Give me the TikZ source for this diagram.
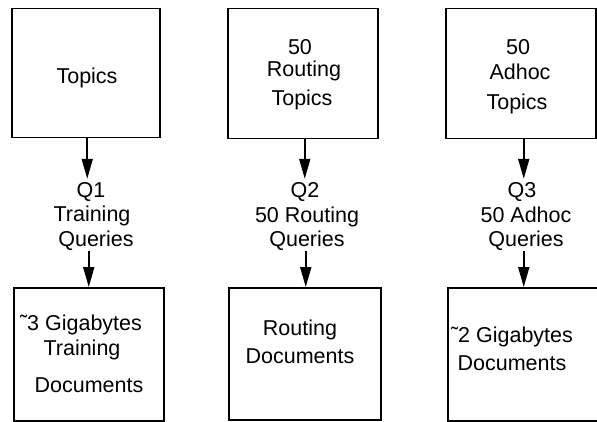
\documentclass[tikz,border=0pt]{standalone}
\usepackage{fontspec}
\setmainfont{Liberation Sans}
\usetikzlibrary{arrows.meta}
\begin{document}
\begin{tikzpicture}[x=1pt,y=-1pt,
  box/.style={draw,line width=1.5pt,inner sep=0pt,anchor=north west},
  txt/.style={anchor=base,inner sep=0pt,font=\fontsize{21.5}{25}\selectfont},
  arr/.style={line width=1.8pt,-{Triangle[length=20pt,width=11pt]}}]
\useasboundingbox (0,0) rectangle (597,422);

% boxes: topics (top row) and document collections (bottom row)
\node[box,minimum width=148pt,minimum height=129pt] (t1) at (11,8) {};
\node[box,minimum width=150pt,minimum height=130pt] (t2) at (227,8) {};
\node[box,minimum width=150pt,minimum height=130pt] (t3) at (445,8) {};
\node[box,minimum width=150pt,minimum height=133pt] (d1) at (13,287) {};
\node[box,minimum width=152pt,minimum height=132pt] (d2) at (228,287) {};
\node[box,minimum width=150pt,minimum height=133pt] (d3) at (447,287) {};

% column 1
\node[txt] (t1a) at (87,84) {Topics};
\node[txt] (q1a) at (91,198) {Q1};
\node[txt] (q1b) at (92,222) {Training};
\node[txt] (q1c) at (96,247) {Queries};
\node[txt] (d1a) at (81,330) {˜3 Gigabytes};
\node[txt] (d1b) at (82,355) {Training};
\node[txt] (d1c) at (89,392) {Documents};

% column 2
\node[txt] (t2a) at (300,55) {50};
\node[txt] (t2b) at (304,77) {Routing};
\node[txt] (t2c) at (302,106) {Topics};
\node[txt] (q2a) at (305,198) {Q2};
\node[txt] (q2b) at (307,223) {50 Routing};
\node[txt] (q2c) at (307,247) {Queries};
\node[txt] (d2a) at (300,335) {Routing};
\node[txt] (d2b) at (300,363) {Documents};

% column 3
\node[txt] (t3a) at (518,55) {50};
\node[txt] (t3b) at (520,80) {Adhoc};
\node[txt] (t3c) at (517,110) {Topics};
\node[txt] (q3a) at (522,198) {Q3};
\node[txt] (q3b) at (526,223) {50 Adhoc};
\node[txt] (q3c) at (526,247) {Queries};
\node[txt] (d3a) at (512,342) {˜2 Gigabytes};
\node[txt] (d3b) at (512,370) {Documents};

% arrows
\draw[arr,shorten >=4pt] ([xshift=1.5pt]t1.south) -- ([xshift=1.5pt]t1.south |- q1a.north);
\draw[arr] (d1.north |- q1c.south) -- (d1.north);
\draw[arr,shorten >=4pt] ([xshift=2pt]t2.south) -- ([xshift=2pt]t2.south |- q2a.north);
\draw[arr] ([xshift=1pt]d2.north |- q2c.south) -- ([xshift=1pt]d2.north);
\draw[arr,shorten >=4pt] ([xshift=3pt]t3.south) -- ([xshift=3pt]t3.south |- q3a.north);
\draw[arr] ([xshift=1pt]d3.north |- q3c.south) -- ([xshift=1pt]d3.north);
\end{tikzpicture}
\end{document}
